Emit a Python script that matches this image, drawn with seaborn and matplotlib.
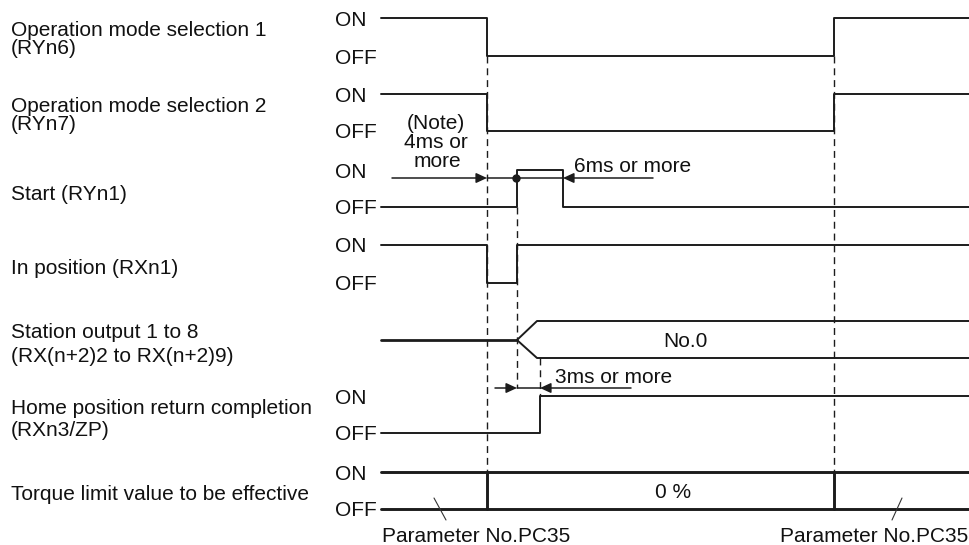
import pandas as pd
import seaborn as sns
from matplotlib import pyplot as plt

# time axis of the diagram (x units) and the transition moments
t_begin, t_end = 381, 969
t_mode_off = 487
t_start_on = 517
t_home_on = 540
t_start_off = 563
t_mode_on = 834
t_split_end = 537

# step signals: times where the state changes and the state held from there
signal_names = ["mode1", "mode2", "start", "inpos", "home"]
signal_times = [
    [t_begin, t_mode_off, t_mode_on, t_end],
    [t_begin, t_mode_off, t_mode_on, t_end],
    [t_begin, t_start_on, t_start_off, t_end],
    [t_begin, t_mode_off, t_start_on, t_end],
    [t_begin, t_home_on, t_end],
]
signal_states = [
    [1, 0, 1, 1],
    [1, 0, 1, 1],
    [0, 1, 0, 0],
    [1, 0, 1, 1],
    [0, 1, 1],
]
row_on = [18, 94, 170, 245, 396]
row_off = [56, 131, 207, 283, 433]

# station output bus and torque limit rows
station_mid, station_top, station_bot = 340, 321, 358
torque_on, torque_off = 472, 509
torque_change = [t_mode_off, t_mode_on]

left_lines = [
    "Operation mode selection 1", "(RYn6)",
    "Operation mode selection 2", "(RYn7)",
    "Start (RYn1)",
    "In position (RXn1)",
    "Station output 1 to 8", "(RX(n+2)2 to RX(n+2)9)",
    "Home position return completion", "(RXn3/ZP)",
    "Torque limit value to be effective",
]
left_line_y = [28, 47, 104, 123, 193, 267, 331, 355, 406, 429, 492]

onoff_text = ["ON", "OFF", "ON", "OFF", "ON", "OFF", "ON", "OFF",
              "ON", "OFF", "ON", "OFF"]
onoff_y = [18, 56, 94, 131, 170, 207, 245, 283, 396, 433, 472, 509]

ink = "#1c1c1c"
fs = 15


def main():
    sns.set_theme(style="white")
    plt.rcParams["font.family"] = ["Liberation Sans", "DejaVu Sans"]

    fig = plt.figure(figsize=(9.69, 5.45), dpi=100)
    ax = fig.add_axes([0, 0, 1, 1])

    records = []
    for name, times, states, on, off in zip(signal_names, signal_times, signal_states, row_on, row_off):
        for t, s in zip(times, states):
            records.append({"signal": name, "t": t, "level": on if s else off})
    df = pd.DataFrame.from_records(records)

    # dashed timing guides (drawn first, under the signals)
    guide = dict(color=ink, lw=1.0, ls=(0, (5, 3.5)))
    ax.plot([t_mode_off, t_mode_off], [row_off[0], torque_on], **guide)
    ax.plot([t_mode_on, t_mode_on], [row_off[0], torque_on], **guide)
    ax.plot([t_start_on, t_start_on], [row_off[2], 388], **guide)
    ax.plot([t_home_on, t_home_on], [station_bot, row_on[4]], **guide)

    sns.lineplot(data=df, x="t", y="level", units="signal", estimator=None,
                 drawstyle="steps-post", color=ink, lw=1.4, ax=ax, legend=False)

    # station output bus
    bus = pd.DataFrame({
        "branch": ["up"] * 3 + ["down"] * 3,
        "t": [t_start_on, t_split_end, t_end] * 2,
        "y": [station_mid, station_top, station_top, station_mid, station_bot, station_bot],
    })
    sns.lineplot(data=bus, x="t", y="y", units="branch", estimator=None, sort=False,
                 color=ink, lw=1.4, ax=ax, legend=False)
    ax.plot([t_begin, t_start_on], [station_mid, station_mid], color=ink, lw=2.0)

    # torque limit row
    ax.plot([t_begin, t_end], [torque_on, torque_on], color=ink, lw=2.1)
    ax.plot([t_begin, t_end], [torque_off, torque_off], color=ink, lw=2.1)
    for tc in torque_change:
        ax.plot([tc, tc], [torque_on, torque_off], color=ink, lw=2.1)

    # timing arrows
    head = dict(arrowstyle="-|>,head_length=0.65,head_width=0.3", color=ink, lw=1.1,
                shrinkA=0, shrinkB=0, mutation_scale=10)
    ya = 178
    ax.annotate("", xy=(t_mode_off, ya), xytext=(392, ya), arrowprops=head)
    ax.annotate("", xy=(t_start_off, ya), xytext=(653, ya), arrowprops=head)
    ax.plot([t_mode_off, t_start_off], [ya, ya], color=ink, lw=1.1)
    ax.plot([t_start_on - 1], [ya], "o", color=ink, ms=5)

    yb = 388
    ax.annotate("", xy=(t_start_on, yb), xytext=(495, yb), arrowprops=head)
    ax.annotate("", xy=(t_home_on, yb), xytext=(631, yb), arrowprops=head)
    ax.plot([t_start_on, t_home_on], [yb, yb], color=ink, lw=1.1)

    # texts
    txt = dict(fontsize=fs, color="#111111", va="baseline")
    for s, y in zip(left_lines, left_line_y):
        ax.text(11, y + 7.5, s, ha="left", **txt)
    for s, y in zip(onoff_text, onoff_y):
        ax.text(335, y + 7.5, s, ha="left", **txt)

    ax.text(436, 129, "(Note)", ha="center", **txt)
    ax.text(436, 148, "4ms or", ha="center", **txt)
    ax.text(437, 167, "more", ha="center", **txt)
    ax.text(574, 172, "6ms or more", ha="left", **txt)
    ax.text(555, 383, "3ms or more", ha="left", **txt)
    ax.text(685, 347, "No.0", ha="center", **txt)
    ax.text(655, 498, "0 %", ha="left", **txt)
    ax.text(382, 542, "Parameter No.PC35", ha="left", **txt)
    ax.text(780, 542, "Parameter No.PC35", ha="left", **txt)

    ax.plot([434, 446], [498, 520], color="#333333", lw=0.8)
    ax.plot([902, 892], [498, 520], color="#333333", lw=0.8)

    ax.set_xlim(0, 969)
    ax.set_ylim(545, 0)
    ax.axis("off")

    fig.savefig("out.png", dpi=100, facecolor="white")


if __name__ == "__main__":
    main()
